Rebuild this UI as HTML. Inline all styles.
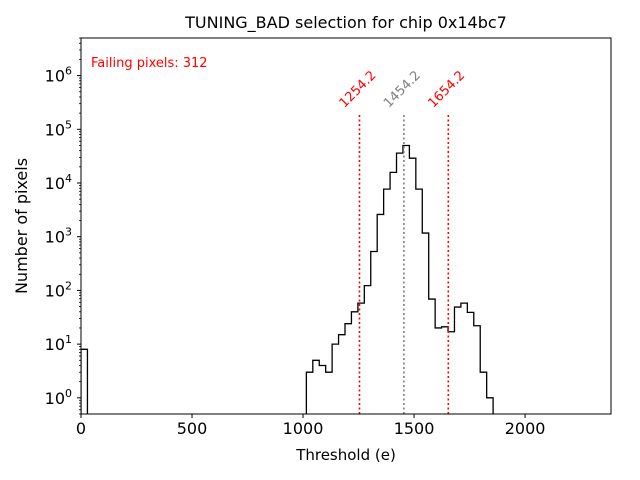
<!DOCTYPE html>
<html><head><meta charset="utf-8"><style>body{margin:0;background:#fff}svg{display:block;font-family:"DejaVu Sans","Liberation Sans",sans-serif}</style></head>
<body>
<svg id="chart" width="640" height="480"></svg>
<script>
const binWidth = 29;
const binStarts = [0,35,36,37,38,39,40,41,42,43,44,45,46,47,48,49,50,51,52,53,54,55,56,57,58,59,60,61,62,63];
const binCounts = [8,3,5,4,3,10,15,24,40,58,123,530,2600,7700,15800,36000,50000,29000,7700,1170,69,20,21,17,49,58,39,22,3,1];
const vlineValues = [1254.2,1454.2,1654.2];
const vlineColors = ['red','gray','red'];
const xTicks = [0,500,1000,1500,2000];
const yTickExps = [0,1,2,3,4,5,6];
const failingPixels = 312;

const L=81,R=611,T=38,B=414;
const xmin=0,xmax=2387,lymin=Math.log10(0.5),lymax=6.7;
const X=v=>L+(v-xmin)/(xmax-xmin)*(R-L);
const Y=v=>B-(Math.log10(v)-lymin)/(lymax-lymin)*(B-T);
const svg=document.getElementById('chart');
const NS='http://www.w3.org/2000/svg';
function mk(t,a,p){const e=document.createElementNS(NS,t);for(const k in a)e.setAttribute(k,a[k]);(p||svg).appendChild(e);return e;}

const counts={};binStarts.forEach((b,i)=>counts[b]=binCounts[i]);
let d='';let run=false;
const nb=Math.max(...binStarts)+2;
for(let i=0;i<=nb;i++){
  const c=counts[i]||0;const x0=X(i*binWidth),x1=X((i+1)*binWidth);
  if(c>0){ if(!run){d+=`M${x0},${B}`;run=true;} d+=`L${x0},${Y(c)}L${x1},${Y(c)}`; }
  else if(run){ d+=`L${x0},${B}`;run=false; }
}
const cp=mk('clipPath',{id:'cp'});mk('rect',{x:L,y:T,width:R-L,height:B-T},cp);
const h=mk('path',{d:d,fill:'none',stroke:'#000','stroke-width':1.3,'clip-path':'url(#cp)'});



vlineValues.forEach((v,i)=>{
  const ln=mk('line',{x1:X(v),x2:X(v),y1:B,y2:Y(2e5),stroke:vlineColors[i],'stroke-width':1.6,'stroke-dasharray':'2,2.5'});
  
  
  const cx=X(v)+1,cy=Y(2e5)-21;
  const tx=mk('text',{x:cx,y:cy,fill:vlineColors[i],'font-size':13,'text-anchor':'middle',transform:`rotate(-45 ${cx} ${cy})`});
  tx.textContent=v.toFixed(1);
  
  
});

const ax=mk('rect',{x:L,y:T,width:R-L,height:B-T,fill:'none',stroke:'#000','stroke-width':1});



xTicks.forEach(v=>{
  mk('line',{x1:X(v),x2:X(v),y1:B,y2:B+4,stroke:'#000'});
  const t=mk('text',{x:X(v),y:B+20,'font-size':16,'text-anchor':'middle'});t.textContent=v;
  
  
});
yTickExps.forEach(e=>{
  const y=Y(Math.pow(10,e));
  mk('line',{x1:L,x2:L-4,y1:y,y2:y,stroke:'#000'});
  const t=mk('text',{x:L-9,y:y+6,'font-size':16,'text-anchor':'end'});
  t.innerHTML='10<tspan dy="-7" font-size="11">'+e+'</tspan>';
  
  
});
for(let e=-1;e<=6;e++)for(let m=2;m<=9;m++){const v=m*Math.pow(10,e);const y=Y(v);if(y<T||y>B)continue;mk('line',{x1:L,x2:L-2,y1:y,y2:y,stroke:'#000','stroke-width':0.8});}

function txt(s,a,name){const t=mk('text',a);t.textContent=s;return t;}
txt('TUNING_BAD selection for chip 0x14bc7',{x:346,y:28,'font-size':16,'text-anchor':'middle'},'chart-title');
txt('Threshold (e)',{x:346,y:460,'font-size':15,'text-anchor':'middle'},'x-axis-title');
txt('Number of pixels',{x:27,y:226,'font-size':16,'text-anchor':'middle',transform:'rotate(-90 27 226)'},'y-axis-title');
txt('Failing pixels: '+failingPixels,{x:91,y:67,'font-size':13,fill:'red'},'failing-pixels-annotation');
</script>
</body></html>
